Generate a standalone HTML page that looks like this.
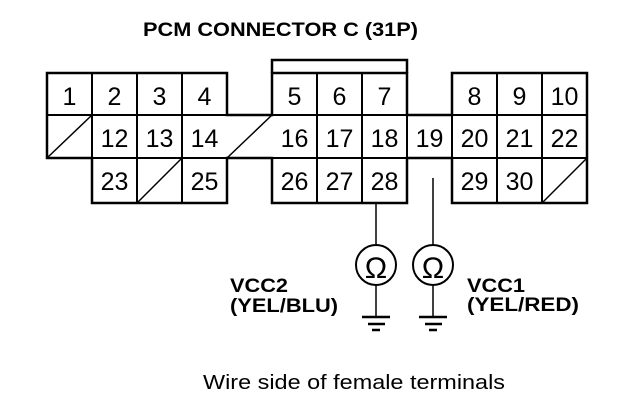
<!DOCTYPE html>
<html><head><style>
html,body{margin:0;padding:0;background:#fff;}
svg{display:block;}
text{font-family:"Liberation Sans",Arial,sans-serif;fill:#000;}
.n{font-size:25px;text-anchor:middle;}
.b{font-weight:bold;font-size:19px;}
</style></head><body>
<svg width="640" height="416" viewBox="0 0 640 416" xmlns="http://www.w3.org/2000/svg">
<text x="143" y="36" font-size="19.5" font-weight="bold" textLength="275" lengthAdjust="spacingAndGlyphs">PCM CONNECTOR C (31P)</text>
<g stroke="#000" fill="none" stroke-width="2">
<path d="M47 73 H227 V115 H272 V73 H407 V115 H452 V73 H587 V158 H587 V203 H452 V158 H407 V203 H272 V158 H227 V203 H92 V158 H47 Z" stroke-width="2.5"/>
<path d="M272 73 V60 H407 V73" stroke-width="2.5"/>
<line x1="47" y1="115" x2="587" y2="115"/>
<line x1="47" y1="158" x2="587" y2="158"/>
<line x1="92" y1="73" x2="92" y2="203"/>
<line x1="137" y1="73" x2="137" y2="203"/>
<line x1="182" y1="73" x2="182" y2="203"/>
<line x1="317" y1="73" x2="317" y2="203"/>
<line x1="362" y1="73" x2="362" y2="203"/>
<line x1="497" y1="73" x2="497" y2="203"/>
<line x1="542" y1="73" x2="542" y2="203"/>
<line x1="407" y1="115" x2="407" y2="158"/>
<line x1="452" y1="115" x2="452" y2="158"/>
<line x1="47" y1="158" x2="92" y2="115" stroke-width="1.5"/>
<line x1="227" y1="158" x2="272" y2="115" stroke-width="1.5"/>
<line x1="137" y1="203" x2="182" y2="158" stroke-width="1.5"/>
<line x1="542" y1="203" x2="587" y2="158" stroke-width="1.5"/>
<line x1="376" y1="203" x2="376" y2="245" stroke-width="1.5"/>
<line x1="433" y1="178" x2="433" y2="245" stroke-width="1.5"/>
<circle cx="376" cy="265" r="20" stroke-width="2"/>
<circle cx="433" cy="265" r="20" stroke-width="2"/>
<line x1="376" y1="285" x2="376" y2="317" stroke-width="1.5"/>
<line x1="433" y1="285" x2="433" y2="317" stroke-width="1.5"/>
<line x1="362" y1="317" x2="390" y2="317" stroke-width="2.5"/>
<line x1="368" y1="324" x2="385" y2="324" stroke-width="2.5"/>
<line x1="372" y1="330" x2="380" y2="330" stroke-width="2.5"/>
<line x1="419" y1="317" x2="447" y2="317" stroke-width="2.5"/>
<line x1="425" y1="324" x2="442" y2="324" stroke-width="2.5"/>
<line x1="429" y1="330" x2="437" y2="330" stroke-width="2.5"/>
</g>
<text x="376" y="278" font-size="30" text-anchor="middle">Ω</text>
<text x="433" y="278" font-size="30" text-anchor="middle">Ω</text>
<text x="69.5" y="105" class="n">1</text>
<text x="114.5" y="105" class="n">2</text>
<text x="159.5" y="105" class="n">3</text>
<text x="204.5" y="105" class="n">4</text>
<text x="294.5" y="105" class="n">5</text>
<text x="339.5" y="105" class="n">6</text>
<text x="384.5" y="105" class="n">7</text>
<text x="474.5" y="105" class="n">8</text>
<text x="519.5" y="105" class="n">9</text>
<text x="564.5" y="105" class="n">10</text>
<text x="114.5" y="147" class="n">12</text>
<text x="159.5" y="147" class="n">13</text>
<text x="204.5" y="147" class="n">14</text>
<text x="294.5" y="147" class="n">16</text>
<text x="339.5" y="147" class="n">17</text>
<text x="384.5" y="147" class="n">18</text>
<text x="429.5" y="147" class="n">19</text>
<text x="474.5" y="147" class="n">20</text>
<text x="519.5" y="147" class="n">21</text>
<text x="564.5" y="147" class="n">22</text>
<text x="114.5" y="190" class="n">23</text>
<text x="204.5" y="190" class="n">25</text>
<text x="294.5" y="190" class="n">26</text>
<text x="339.5" y="190" class="n">27</text>
<text x="384.5" y="190" class="n">28</text>
<text x="474.5" y="190" class="n">29</text>
<text x="519.5" y="190" class="n">30</text>
<text x="230" y="292" class="b" textLength="58" lengthAdjust="spacingAndGlyphs">VCC2</text>
<text x="230" y="312" class="b" textLength="108" lengthAdjust="spacingAndGlyphs">(YEL/BLU)</text>
<text x="467" y="292" class="b" textLength="58" lengthAdjust="spacingAndGlyphs">VCC1</text>
<text x="467" y="311" class="b" textLength="112" lengthAdjust="spacingAndGlyphs">(YEL/RED)</text>
<text x="203" y="389" font-size="20" textLength="302" lengthAdjust="spacingAndGlyphs">Wire side of female terminals</text>
</svg>
</body></html>
